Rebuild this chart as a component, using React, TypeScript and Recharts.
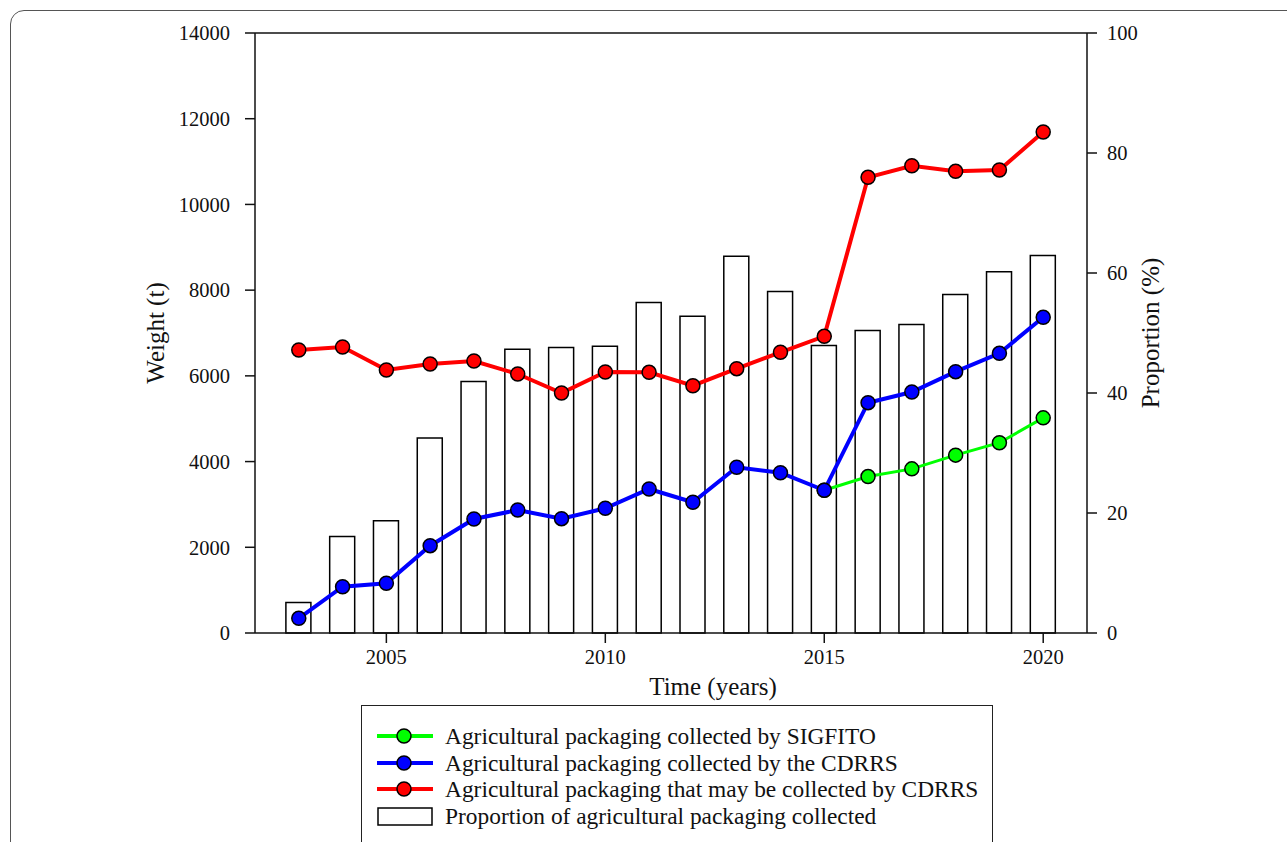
import React from 'react';
import { ComposedChart, Bar, Line, XAxis, YAxis, ReferenceLine } from 'recharts';

const years = [2003, 2004, 2005, 2006, 2007, 2008, 2009, 2010, 2011, 2012, 2013, 2014, 2015, 2016, 2017, 2018, 2019, 2020];
// weight (t), left axis
const sigfito = [null, null, null, null, null, null, null, null, null, null, null, null, 3330, 3650, 3830, 4150, 4440, 5020];
const cdrrs = [343, 1080, 1160, 2037, 2660, 2870, 2667, 2910, 3360, 3050, 3867, 3740, 3330, 5374, 5623, 6097, 6526, 7366];
const potential = [6603, 6673, 6137, 6277, 6347, 6043, 5600, 6090, 6083, 5770, 6167, 6550, 6923, 10632, 10903, 10772, 10803, 11690];
// proportion (%), right axis
const proportion = [5.1, 16.1, 18.7, 32.5, 41.9, 47.3, 47.6, 47.8, 55.1, 52.8, 62.8, 56.9, 47.9, 50.4, 51.4, 56.4, 60.2, 62.9];

const xTicks = [2005, 2010, 2015, 2020];
const leftTicks = [0, 2000, 4000, 6000, 8000, 10000, 12000, 14000];
const rightTicks = [0, 20, 40, 60, 80, 100];

const legendItems = [
  { label: 'Agricultural packaging collected by SIGFITO', color: '#00ff00', kind: 'line' },
  { label: 'Agricultural packaging collected by the CDRRS', color: '#0000ff', kind: 'line' },
  { label: 'Agricultural packaging that may be collected by CDRRS', color: '#ff0000', kind: 'line' },
  { label: 'Proportion of agricultural packaging collected', color: '#ffffff', kind: 'rect' },
];

const data = years.map((year, i) => ({
  year,
  sigfito: sigfito[i],
  cdrrs: cdrrs[i],
  potential: potential[i],
  proportion: proportion[i],
}));

const FONT = '"Liberation Serif", "Times New Roman", serif';
const INK = '#111';
const axisStroke = { stroke: INK, strokeWidth: 1.5 };
const tickStyle = { fill: INK, fontSize: 20.5, fontFamily: FONT };
const titleStyle = { fontSize: 25, fill: INK, fontFamily: FONT, textAnchor: 'middle' as const };

const dotFor = (color: string) => ({ r: 7, fill: color, stroke: '#000', strokeWidth: 1.5 });

const Legend = () => (
  <div
    style={{
      position: 'absolute',
      left: 361,
      top: 705,
      width: 632,
      height: 170,
      border: '1.5px solid #222',
      boxSizing: 'border-box',
      paddingTop: 17,
      paddingLeft: 15,
      fontFamily: FONT,
      fontSize: 23.4,
      color: INK,
      background: '#fff',
    }}
  >
    {legendItems.map((item) => (
      <div key={item.label} style={{ display: 'flex', alignItems: 'center', height: 26.5 }}>
        <svg width={56} height={22} style={{ flex: 'none' }}>
          {item.kind === 'line' ? (
            <>
              <line x1={0} y1={11} x2={56} y2={11} stroke={item.color} strokeWidth={4} />
              <circle cx={27} cy={11} r={7} fill={item.color} stroke="#000" strokeWidth={1.5} />
            </>
          ) : (
            <rect x={1} y={3} width={54} height={17} fill="#fff" stroke="#000" strokeWidth={1.5} />
          )}
        </svg>
        <span style={{ marginLeft: 12, whiteSpace: 'nowrap', lineHeight: '26px' }}>{item.label}</span>
      </div>
    ))}
  </div>
);

export default function App() {
  return (
    <div style={{ position: 'absolute', left: 0, top: 0, width: 1287, height: 842, overflow: 'hidden', background: '#fff' }}>
      <div
        style={{
          position: 'absolute',
          left: 10,
          top: 10,
          width: 1320,
          height: 900,
          border: '1.5px solid #555',
          borderRadius: 14,
        }}
      />
      <div style={{ position: 'absolute', left: 0, top: 0 }}>
        <ComposedChart
          width={1287}
          height={842}
          data={data}
          margin={{ top: 33, left: 155, right: 100, bottom: 144 }}
        >
          <XAxis
            dataKey="year"
            type="number"
            domain={[2002, 2021]}
            ticks={xTicks}
            height={65}
            axisLine={axisStroke}
            tickLine={axisStroke}
            tickSize={10}
            tickMargin={6}
            tick={tickStyle}
            label={{ value: 'Time (years)', position: 'insideBottom', offset: 3, dx: 42, style: titleStyle }}
          />
          <YAxis
            yAxisId="left"
            domain={[0, 14000]}
            ticks={leftTicks}
            width={100}
            axisLine={axisStroke}
            tickLine={axisStroke}
            tickSize={10}
            tickMargin={15}
            tick={tickStyle}
            label={{ value: 'Weight (t)', angle: -90, position: 'insideLeft', offset: 0, style: titleStyle }}
          />
          <YAxis
            yAxisId="right"
            orientation="right"
            domain={[0, 100]}
            ticks={rightTicks}
            width={100}
            axisLine={axisStroke}
            tickLine={axisStroke}
            tickSize={10}
            tickMargin={10}
            tick={tickStyle}
            label={{ value: 'Proportion (%)', angle: -90, position: 'insideRight', offset: 37, style: titleStyle }}
          />
          <ReferenceLine yAxisId="left" y={14000} stroke={INK} strokeWidth={1.5} />
          <Bar
            yAxisId="right"
            dataKey="proportion"
            barSize={25}
            fill="#ffffff"
            stroke="#000"
            strokeWidth={1.5}
            isAnimationActive={false}
          />
          <Line
            yAxisId="left"
            type="linear"
            dataKey="potential"
            stroke="#ff0000"
            strokeWidth={4}
            dot={dotFor('#ff0000')}
            activeDot={false}
            isAnimationActive={false}
          />
          <Line
            yAxisId="left"
            type="linear"
            dataKey="sigfito"
            stroke="#00ff00"
            strokeWidth={3}
            dot={dotFor('#00ff00')}
            activeDot={false}
            isAnimationActive={false}
          />
          <Line
            yAxisId="left"
            type="linear"
            dataKey="cdrrs"
            stroke="#0000ff"
            strokeWidth={4}
            dot={dotFor('#0000ff')}
            activeDot={false}
            isAnimationActive={false}
          />
        </ComposedChart>
      </div>
      <Legend />
    </div>
  );
}
